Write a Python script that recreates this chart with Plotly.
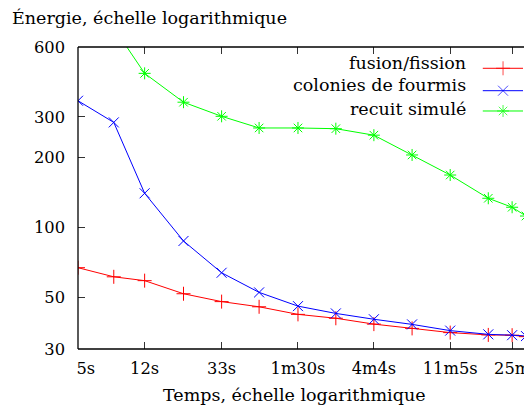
import math
import plotly.graph_objects as go

# ---- data ----
temps_s = [5, 8, 12, 20, 33, 54, 90, 148, 244, 403, 665, 1097, 1500, 1800, 2000]
fusion_fission = [67.2, 61.4, 59.1, 51.9, 48.0, 45.6, 42.3, 40.7, 38.4, 36.8, 35.3, 34.5, 34.4, 33.9, 33.7]
colonies_fourmis = [352, 284, 140.6, 87.6, 63.9, 52.6, 45.9, 42.7, 40.3, 38.3, 36.0, 34.7, 34.4, 34.1, 34.0]
recuit_simule = [1000, 727, 462, 347, 301.7, 268.7, 268.7, 266.8, 250.2, 205.6, 168.5, 133.8, 122.4, 112.2, 108]

x_tick_vals = [5, 12, 33, 90, 244, 665, 1500]
x_tick_text = ["\u00a0\u00a0\u00a05s", "12s", "33s", "1m30s", "4m4s", "11m5s", "25m"]
y_tick_vals = [30, 50, 100, 200, 300, 600]
y_tick_text = ["30", "50", "100", "200", "300", "600"]

series_names = ["fusion/fission", "colonies de fourmis", "recuit simulé"]
series_values = [fusion_fission, colonies_fourmis, recuit_simule]
series_colors = ["#ff0000", "#0000ff", "#00ff00"]
series_symbols = ["cross-thin", "x-thin", "asterisk"]

FONT = "DejaVu Serif"
# the page adds an 8px body margin, so the figure is laid out 8px up/left
W, H = 530, 397
ML, MR, MT, MB = 70, 4, 39, 56
PW = W - ML - MR
PH = H - MT - MB

fig = go.Figure()

for name, vals, col, sym in zip(series_names, series_values, series_colors, series_symbols):
    fig.add_trace(go.Scatter(
        x=temps_s, y=vals, mode="lines+markers", name=name,
        line=dict(color=col, width=1),
        marker=dict(symbol=sym, size=10, color=col, line=dict(color=col, width=1)),
        showlegend=False,
    ))

# custom legend (text left, sample right), on an overlay axis in plot fractions
leg_line_y = [0.9295, 0.8553, 0.7881]
leg_text_y = [0.948, 0.8735, 0.795]
leg_x0, leg_xm, leg_x1 = 0.8877, 0.9321, 0.9759
leg_text_x = 0.8554
for name, col, sym, yy, ty in zip(series_names, series_colors, series_symbols, leg_line_y, leg_text_y):
    fig.add_trace(go.Scatter(
        x=[leg_x0, leg_xm, leg_x1], y=[yy, yy, yy], xaxis="x2", yaxis="y2",
        mode="lines+markers", line=dict(color=col, width=1),
        marker=dict(symbol=sym, size=[0, 10, 0], color=col, line=dict(color=col, width=1)),
        showlegend=False, hoverinfo="skip",
    ))
    fig.add_annotation(
        x=leg_text_x, y=ty, xref="paper", yref="paper", text=name,
        showarrow=False, xanchor="right", yanchor="middle",
        font=dict(family=FONT, size=17.5, color="black"),
    )

axis_common = dict(
    showgrid=False, zeroline=False, showline=False,
    ticks="inside", ticklen=7, tickwidth=1, tickcolor="#333333",
    mirror="ticks",
    tickfont=dict(family=FONT, size=16.3, color="black"),
)

fig.update_layout(
    width=W, height=H,
    margin=dict(l=ML, r=MR, t=MT, b=MB, pad=0),
    paper_bgcolor="white", plot_bgcolor="white",
    xaxis=dict(type="log", range=[math.log10(5), math.log10(2000)], tickvals=x_tick_vals,
               ticktext=x_tick_text, ticklabelstandoff=8, **axis_common),
    yaxis=dict(type="log", range=[math.log10(30), math.log10(600)], tickvals=y_tick_vals,
               ticktext=y_tick_text, ticklabelstandoff=12, **axis_common),
    xaxis2=dict(overlaying="x", range=[0, 1], visible=False, fixedrange=True),
    yaxis2=dict(overlaying="y", range=[0, 1], visible=False, fixedrange=True),
    shapes=[
        dict(type="line", xref="paper", yref="paper", x0=0, x1=0, y0=0, y1=1,
             line=dict(color="black", width=1.3), layer="above"),
        dict(type="line", xref="paper", yref="paper", x0=1, x1=1, y0=0, y1=1,
             line=dict(color="black", width=1.3), layer="above"),
        dict(type="line", xref="paper", yref="paper", x0=0, x1=1, y0=0, y1=0,
             line=dict(color="black", width=1.3), layer="above"),
        dict(type="line", xref="paper", yref="paper", x0=0, x1=1, y0=1, y1=1,
             line=dict(color="black", width=1.3), layer="above"),
    ],
)

# axis titles
fig.add_annotation(
    x=(2 - ML) / PW, y=(H - MB - 10) / PH, xref="paper", yref="paper",
    text="Énergie, échelle logarithmique", showarrow=False, xanchor="left", yanchor="middle",
    font=dict(family=FONT, size=17.5, color="black"),
)
fig.add_annotation(
    x=(286 - ML) / PW, y=(H - MB - 387) / PH, xref="paper", yref="paper",
    text="Temps, échelle logarithmique", showarrow=False, xanchor="center", yanchor="middle",
    font=dict(family=FONT, size=17.5, color="black"),
)

fig.write_html("out.html")
